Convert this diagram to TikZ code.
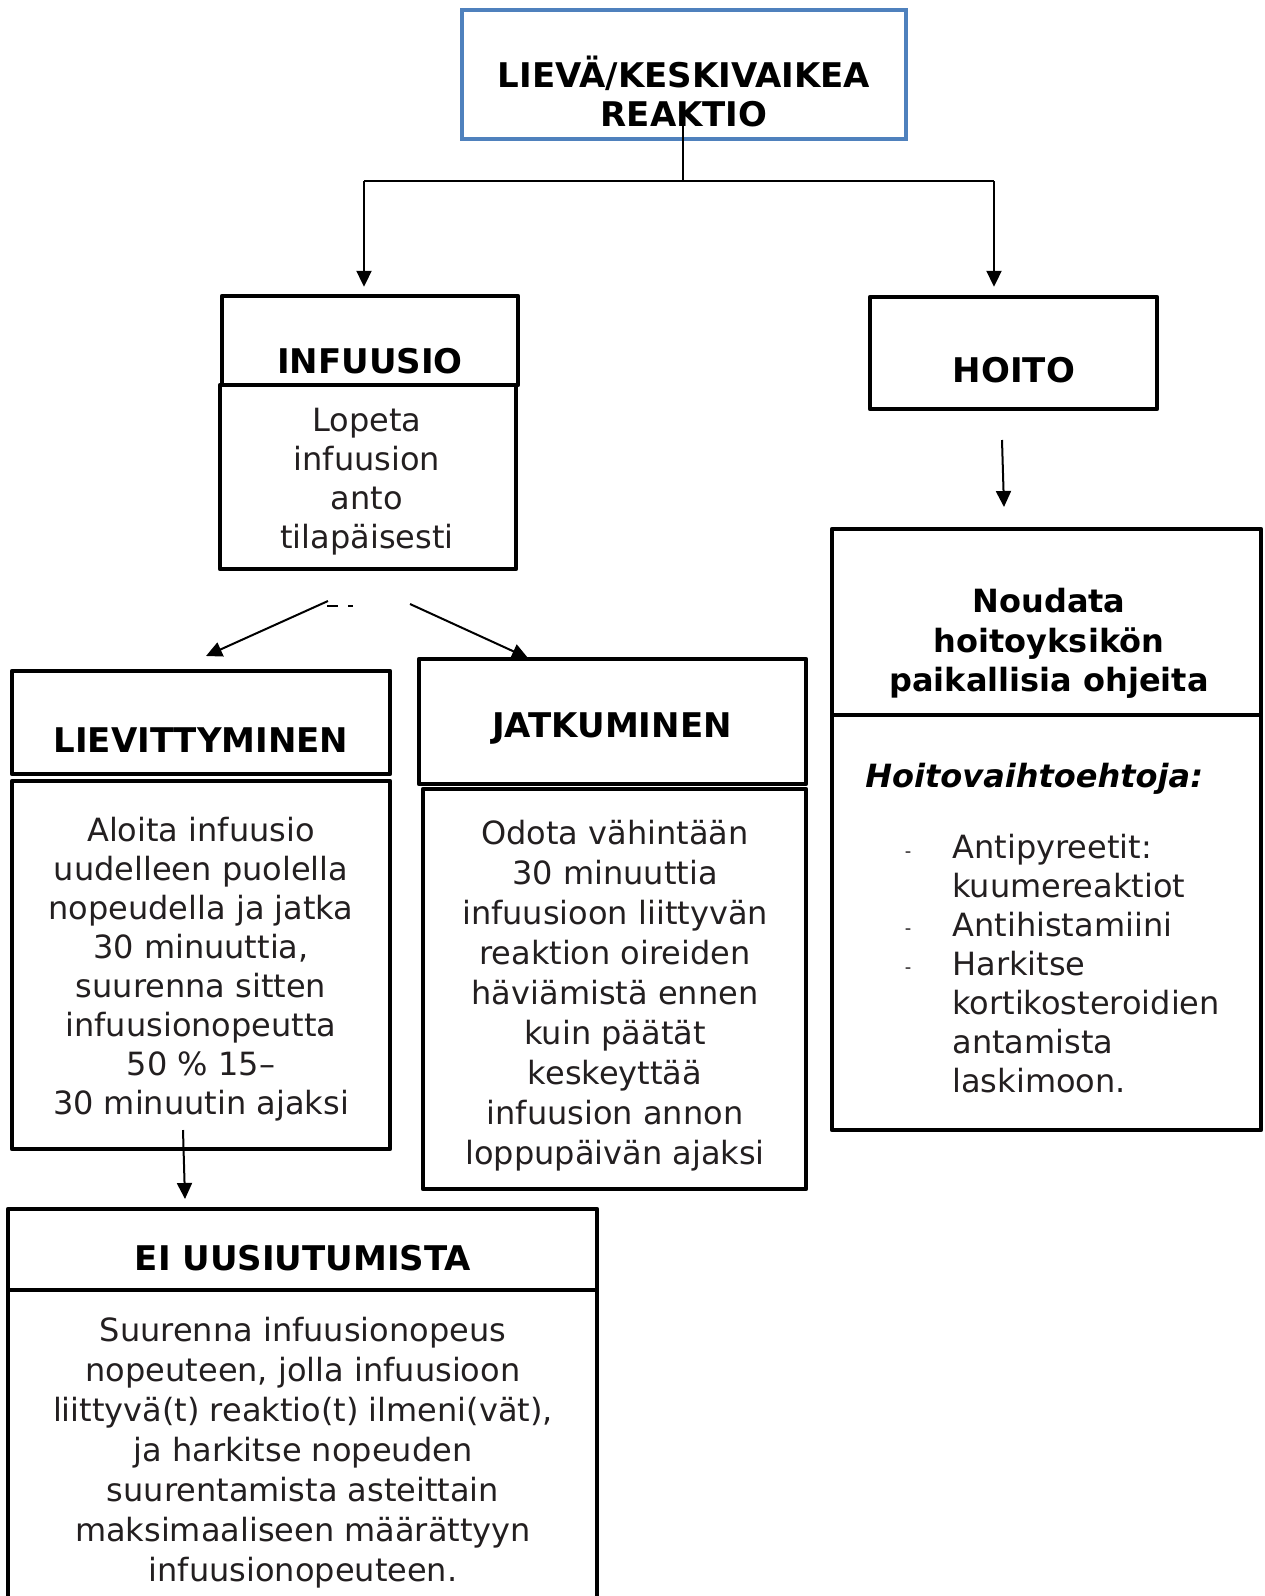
\documentclass[tikz,border=0pt]{standalone}
\usepackage{fontspec}
\setmainfont{DejaVu Sans}
\usetikzlibrary{arrows.meta,fit}
\definecolor{boxblue}{RGB}{79,129,189}
\definecolor{txt}{RGB}{35,31,32}
\tikzset{
 box/.style={draw=black,line width=2.2pt,line join=round,inner sep=0pt},
 bluebox/.style={draw=boxblue,line width=2pt,inner sep=0pt},
 head/.style={font=\fontsize{17pt}{19.5pt}\selectfont\bfseries,text=black,align=center,inner sep=0pt},
 headlow/.style={font=\fontsize{16pt}{19.75pt}\selectfont\bfseries,text=black,align=center,inner sep=0pt},
 body/.style={font=\fontsize{16pt}{19.5pt}\selectfont,text=txt,align=center,inner sep=0pt},
 bodywide/.style={font=\fontsize{16pt}{20pt}\selectfont,text=txt,align=center,inner sep=0pt},
 dashtxt/.style={font=\fontsize{9pt}{9pt}\selectfont,text=txt,inner sep=0pt},
 conn/.style={line width=1pt},
 arr/.style={line width=1pt,-{Triangle[length=8pt,width=7.5pt]}},
}
\begin{document}
\begin{tikzpicture}[x=0.5pt,y=-0.5pt]
\clip (0,0) rectangle (1264,1596);
\fill[white] (0,0) rectangle (1264,1596);

% boxes
\node[bluebox,fit={(462,10) (906,139)}] (top) {};
\node[box,fit={(222,296) (518,385)}] (infhead) {};
\node[box,fit={(220,385) (516,569)}] (infbody) {};
\node[box,fit={(870,297) (1157,409)}] (hoito) {};
\node[box,fit={(832,529) (1261,715)}] (noudhead) {};
\node[box,fit={(832,715) (1261,1130)}] (noudbody) {};
\node[box,fit={(12,671) (390,774)}] (lievhead) {};
\node[box,fit={(12,781) (390,1149)}] (lievbody) {};
\node[box,fit={(419,659) (806,784)}] (jatkhead) {};
\node[box,fit={(423,789) (806,1189)}] (jatkbody) {};
\node[box,fit={(8,1209) (597,1290)}] (eihead) {};
\node[box,fit={(8,1290) (597,1660)}] (eibody) {};

% texts
\node[head] (t1) at (684,91.5) {LIEVÄ/KESKIVAIKEA\\REAKTIO};
\node[head] (t2) at (370,361) {INFUUSIO};
\node[body] (t3) at (367,481.5) {Lopeta\\infuusion\\anto\\tilapäisesti};
\node[head] (t4) at (1014,370) {HOITO};
\node[headlow] (t5) at (1049,643.5) {Noudata\\hoitoyksikön\\paikallisia ohjeita};
\node[headlow,font=\fontsize{16pt}{19.5pt}\selectfont\bfseries\itshape,anchor=west] (t6) at (865,779) {Hoitovaihtoehtoja:};
\node[body,align=left,anchor=west] (t7) at (952,964) {Antipyreetit:\\kuumereaktiot\\Antihistamiini\\Harkitse\\kortikosteroidien\\antamista\\laskimoon.};
\node[dashtxt] (b1) at (908,855) {-};
\node[dashtxt] (b2) at (908,932) {-};
\node[dashtxt] (b3) at (908,971) {-};
\node[head] (t8) at (201,740) {LIEVITTYMINEN};
\node[body] (t9) at (201,969.5) {Aloita infuusio\\uudelleen puolella\\nopeudella ja jatka\\30 minuuttia,\\suurenna sitten\\infuusionopeutta\\50 \% 15–\\30 minuutin ajaksi};
\node[head] (t10) at (612,729) {JATKUMINEN};
\node[bodywide] (t11) at (615,996) {Odota vähintään\\30 minuuttia\\infuusioon liittyvän\\reaktion oireiden\\häviämistä ennen\\kuin päätät\\keskeyttää\\infuusion annon\\loppupäivän ajaksi};
\node[head] (t12) at (303,1258) {EI UUSIUTUMISTA};
\node[bodywide] (t13) at (303,1453) {Suurenna infuusionopeus\\nopeuteen, jolla infuusioon\\liittyvä(t) reaktio(t) ilmeni(vät),\\ja harkitse nopeuden\\suurentamista asteittain\\maksimaaliseen määrättyyn\\infuusionopeuteen.};

% connectors
\coordinate (stemtop) at (683,120);
\coordinate (jm) at (683,181);
\coordinate (jl) at (364,181);
\coordinate (jr) at (994,181);
\draw[conn] (stemtop) -- (jm);
\draw[conn] (jl) -- (jr);
\draw[arr,shorten >=3.5pt] (jl) -- (jl |- infhead.north);
\draw[arr,shorten >=4pt] (jr) -- (jr |- hoito.north);

\coordinate (dl0) at (328,601);
\coordinate (dl1) at (206,656);
\draw[arr] (dl0) -- (dl1);
\coordinate (dr0) at (410,604);
\coordinate (dr1) at (528,658);
\draw[arr] (dr0) -- (dr1);
\draw[line width=1pt] (327,606) -- (338,606);
\draw[line width=1pt] (348,606) -- (353,606);

\coordinate (h0) at (1002,440);
\coordinate (h1) at (1004,507);
\draw[arr] (h0) -- (h1);

\coordinate (l0) at (183,1130);
\coordinate (l1) at (185,1199);
\draw[arr] (l0) -- (l1);
\end{tikzpicture}
\end{document}
